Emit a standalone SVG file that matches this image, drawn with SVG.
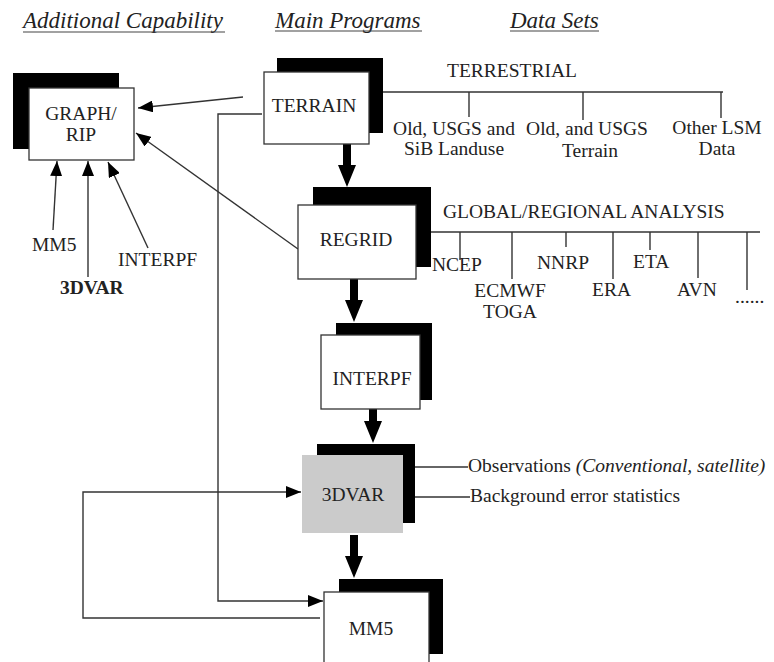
<svg xmlns="http://www.w3.org/2000/svg" width="774" height="662" viewBox="0 0 774 662" font-family="'Liberation Serif', Tinos, 'Times New Roman', 'DejaVu Serif', serif">
  <style>
    text { fill: #222; }
    .title { font-size: 23px; font-style: italic; }
    .lbl { font-size: 19.5px; }
    .mid { text-anchor: middle; }
    .shadow { fill: #000; }
    .box { fill: #fff; stroke: #333; stroke-width: 1.3; }
    .gray { fill: #cbcbcb; }
    .thin { fill: none; stroke: #333; stroke-width: 1.4; }
    .uline { stroke: #444; stroke-width: 1.2; }
  </style>
  <defs>
    <marker id="arr" markerUnits="userSpaceOnUse" markerWidth="16" markerHeight="12" refX="15" refY="6" orient="auto">
      <path d="M0,0 L15,6 L0,12 z" fill="#000"/>
    </marker>
    <!-- thick downward arrow, tip at origin -->
    <path id="bigArrow" d="M-4,-43 L4,-43 L4,-22 L9,-22 L0,0 L-9,-22 L-4,-22 z" fill="#000"/>
  </defs>

  <!-- column headings -->
  <g id="headings">
    <text class="title" x="23" y="28">Additional Capability</text>
    <line class="uline" x1="23" y1="32" x2="225" y2="32"/>
    <text class="title" x="275" y="28">Main Programs</text>
    <line class="uline" x1="275" y1="31" x2="422" y2="31"/>
    <text class="title" x="510" y="28">Data Sets</text>
    <line class="uline" x1="510" y1="31" x2="599" y2="31"/>
  </g>

  <!-- connectors -->
  <g id="connectors">
    <line class="thin" x1="243" y1="97" x2="138" y2="108" marker-end="url(#arr)"/>
    <line class="thin" x1="298" y1="249" x2="136" y2="133" marker-end="url(#arr)"/>
    <line class="thin" x1="53" y1="230" x2="57" y2="161" marker-end="url(#arr)"/>
    <line class="thin" x1="88" y1="277" x2="88" y2="161" marker-end="url(#arr)"/>
    <line class="thin" x1="148" y1="248" x2="108" y2="162" marker-end="url(#arr)"/>
    <polyline class="thin" points="262,114 218,114 218,601 323,601" marker-end="url(#arr)"/>
    <polyline class="thin" points="320,618 83,618 83,492 301,492" marker-end="url(#arr)"/>

    <use href="#bigArrow" x="347" y="187"/>
    <use href="#bigArrow" x="354" y="322"/>
    <use href="#bigArrow" x="373" y="443"/>
    <use href="#bigArrow" x="354" y="578"/>

    <!-- terrestrial data tree -->
    <line class="thin" x1="383" y1="92" x2="723" y2="92"/>
    <line class="thin" x1="469" y1="92" x2="469" y2="117"/>
    <line class="thin" x1="583" y1="92" x2="583" y2="120"/>
    <line class="thin" x1="721" y1="92" x2="721" y2="118"/>

    <!-- analysis data tree -->
    <line class="thin" x1="431" y1="232" x2="760" y2="232"/>
    <line class="thin" x1="460" y1="232" x2="460" y2="260"/>
    <line class="thin" x1="512" y1="232" x2="512" y2="279"/>
    <line class="thin" x1="566" y1="232" x2="566" y2="247"/>
    <line class="thin" x1="613" y1="232" x2="613" y2="279"/>
    <line class="thin" x1="650" y1="232" x2="650" y2="250"/>
    <line class="thin" x1="698" y1="232" x2="698" y2="278"/>
    <line class="thin" x1="747" y1="232" x2="747" y2="290"/>

    <!-- 3DVAR inputs -->
    <line class="thin" x1="415" y1="467" x2="468" y2="467"/>
    <line class="thin" x1="415" y1="497" x2="470" y2="497"/>
  </g>

  <!-- nodes -->
  <g id="graph-rip">
    <rect class="shadow" x="13" y="73" width="106" height="76"/>
    <rect class="box" x="29" y="88" width="105" height="72"/>
    <text class="lbl mid" x="81" y="120">GRAPH/</text>
    <text class="lbl mid" x="81" y="141">RIP</text>
  </g>

  <g id="terrain">
    <rect class="shadow" x="277" y="58" width="106" height="75"/>
    <rect class="box" x="264" y="72" width="105" height="72"/>
    <text class="lbl mid" x="314" y="112">TERRAIN</text>
  </g>

  <g id="regrid">
    <rect class="shadow" x="313" y="187" width="118" height="80"/>
    <rect class="box" x="298" y="205" width="118" height="74"/>
    <text class="lbl mid" x="356" y="246">REGRID</text>
  </g>

  <g id="interpf">
    <rect class="shadow" x="336" y="323" width="96" height="77"/>
    <rect class="box" x="321" y="335" width="99" height="74"/>
    <text class="lbl mid" x="372" y="385">INTERPF</text>
  </g>

  <g id="var3d">
    <rect class="shadow" x="317" y="444" width="98" height="79"/>
    <rect class="gray" x="302" y="455" width="101" height="78"/>
    <text class="lbl mid" x="353" y="501">3DVAR</text>
  </g>

  <g id="mm5">
    <rect class="shadow" x="339" y="579" width="104" height="75"/>
    <rect class="box" x="324" y="592" width="105" height="72"/>
    <text class="lbl mid" x="371" y="635">MM5</text>
  </g>

  <!-- inputs to the plotting tool -->
  <g id="plot-inputs">
    <text class="lbl" x="32" y="251">MM5</text>
    <text class="lbl" x="60" y="294" font-weight="bold">3DVAR</text>
    <text class="lbl" x="118" y="266">INTERPF</text>
  </g>

  <!-- terrestrial data sets -->
  <g id="terrestrial">
    <text class="lbl" x="447" y="77">TERRESTRIAL</text>
    <text class="lbl mid" x="454" y="135">Old, USGS and</text>
    <text class="lbl mid" x="454" y="155">SiB Landuse</text>
    <text class="lbl mid" x="587" y="135">Old, and USGS</text>
    <text class="lbl mid" x="590" y="157">Terrain</text>
    <text class="lbl mid" x="717" y="134">Other LSM</text>
    <text class="lbl mid" x="717" y="155">Data</text>
  </g>

  <!-- analysis data sets -->
  <g id="analysis">
    <text class="lbl" x="443" y="218">GLOBAL/REGIONAL ANALYSIS</text>
    <text class="lbl" x="432" y="271">NCEP</text>
    <text class="lbl mid" x="510" y="297">ECMWF</text>
    <text class="lbl mid" x="510" y="318">TOGA</text>
    <text class="lbl" x="537" y="269">NNRP</text>
    <text class="lbl" x="592" y="296">ERA</text>
    <text class="lbl" x="633" y="268">ETA</text>
    <text class="lbl" x="677" y="296">AVN</text>
    <text class="lbl" x="735" y="303">......</text>
  </g>

  <!-- 3DVAR data inputs -->
  <g id="var-inputs">
    <text class="lbl" x="468" y="472">Observations <tspan font-style="italic">(Conventional, satellite)</tspan></text>
    <text class="lbl" x="470" y="502">Background error statistics</text>
  </g>
</svg>
